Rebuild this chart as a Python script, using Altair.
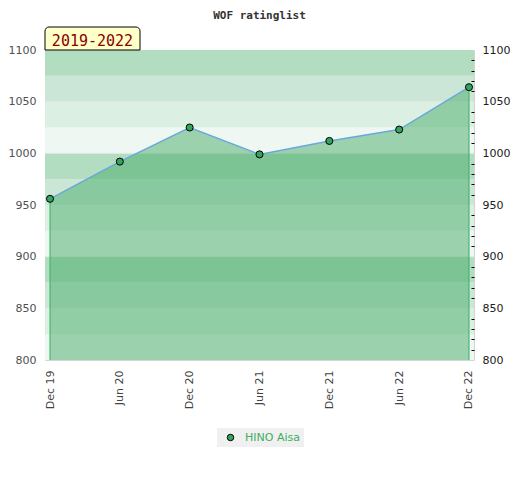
import altair as alt
import pandas as pd

# ---- data ----
months = ["Dec 19", "Jun 20", "Dec 20", "Jun 21", "Dec 21", "Jun 22", "Dec 22"]
ratings = [956, 992, 1025, 999, 1012, 1023, 1064]
player = "HINO Aisa"
title_text = "WOF ratinglist"
period_label = "2019-2022"
y_major = [800, 850, 900, 950, 1000, 1050, 1100]
y_minor = list(range(800, 1101, 10))
band_lows = list(range(800, 1100, 25))
grid_values = [850, 900, 950, 1000, 1050]
band_colors = ["#eef7f1", "#dcefe3", "#cbe6d6", "#b3ddc1"]

df = pd.DataFrame({"month": months, "rating": ratings, "player": [player] * len(months)})
edges = df.iloc[[0, len(df) - 1]]
bands = pd.DataFrame({
    "lo": band_lows,
    "hi": [b + 25 for b in band_lows],
    "shade": [band_colors[i % 4] for i in range(len(band_lows))],
})
grid = pd.DataFrame({"v": grid_values})
ann = pd.DataFrame({"label": [period_label], "title": [title_text]})

yscale = alt.Scale(domain=[800, 1100], nice=False, zero=False)
xenc = alt.X(
    "month:O", sort=months, title=None,
    scale=alt.Scale(type="point", padding=0.0716),
    axis=alt.Axis(labelAngle=-90, domain=False, ticks=False, tickSize=0, grid=False,
                  labelPadding=10, labelFont="DejaVu Sans", labelFontSize=11,
                  labelColor="#444444"),
)

left_axis = alt.Axis(orient="left", values=y_major, format="d", domain=False, ticks=False,
                     tickSize=0, grid=False, labelPadding=9, labelFont="DejaVu Sans",
                     labelFontSize=11, labelColor="#505050", title=None)
right_axis = alt.Axis(
    orient="right", values=y_minor, format="d", domain=False, grid=False, tickSize=3,
    offset=-3, zindex=1, tickWidth=1,
    tickColor={"condition": {"test": "datum.value % 50 == 0", "value": "transparent"},
               "value": "black"},
    labelExpr="datum.value % 50 == 0 ? datum.label : ''", labelOverlap=False,
    labelPadding=8, labelFont="DejaVu Sans", labelFontSize=11, labelColor="#202020",
    title=None,
)

band_layer = alt.Chart(bands).mark_rect().encode(
    y=alt.Y("lo:Q", scale=yscale, axis=left_axis),
    y2="hi:Q",
    fill=alt.Fill("shade:N", scale=None),
)

grid_layer = alt.Chart(grid).mark_rule(color="#e3e8e4", strokeWidth=1).encode(
    y=alt.Y("v:Q", scale=yscale, axis=None),
)

base = alt.Chart(df)

area = base.mark_area(color="#40aa63", opacity=0.48).encode(
    x=xenc,
    y=alt.Y("rating:Q", scale=yscale, axis=None),
    y2=alt.datum(800),
)

edge_rules = alt.Chart(edges).mark_rule(color="#36b062", strokeWidth=1).encode(
    x=xenc,
    y=alt.Y("rating:Q", scale=yscale, axis=None),
    y2=alt.datum(800),
)

line = base.mark_line(color="#6aa8dc", strokeWidth=1.5).encode(
    x=xenc,
    y=alt.Y("rating:Q", scale=yscale, axis=None),
)

points = base.mark_circle(size=50, opacity=1, stroke="black", strokeWidth=1).encode(
    x=xenc,
    y=alt.Y("rating:Q", scale=yscale, axis=right_axis),
    color=alt.Color(
        "player:N", scale=alt.Scale(range=["#34a35b"]),
        legend=alt.Legend(
            orient="none", legendX=172, legendY=378, title=None, fillColor="#f0f0f0",
            padding=4, labelColor="#3cae62", labelFontSize=11, labelFont="DejaVu Sans",
            symbolType="circle", symbolSize=42, symbolStrokeColor="black",
            symbolStrokeWidth=1, symbolFillColor="#34a35b", symbolOffset=4, labelOffset=9,
        ),
    ),
)

box = alt.Chart(ann).mark_rect(
    fill="#ffffc8", stroke="black", strokeWidth=1,
    cornerRadiusTopLeft=4, cornerRadiusTopRight=4,
).encode(x=alt.value(0), x2=alt.value(95), y=alt.value(-23), y2=alt.value(0))

box_text = alt.Chart(ann).mark_text(
    font="DejaVu Sans Mono", fontSize=15, color="#8b0000", align="center",
    baseline="alphabetic",
).encode(text="label:N", x=alt.value(47.5), y=alt.value(-4.5))

title_mark = alt.Chart(ann).mark_text(
    font="DejaVu Sans Mono", fontSize=11, fontWeight="bold", color="#333333",
    align="center", baseline="alphabetic",
).encode(text="title:N", x=alt.value(214.5), y=alt.value(-31.5))

chart = alt.layer(
    band_layer, grid_layer, area, edge_rules, line, points, box, box_text, title_mark
).resolve_axis(y="independent").properties(
    width=429, height=310,
    padding={"left": 37, "top": 42, "right": 38, "bottom": 110},
    autosize=alt.AutoSizeParams(type="none"),
    background="white",
).configure_view(stroke="#d4d4d4")

chart.save("out.html", embed_options={"renderer": "svg", "actions": False})
